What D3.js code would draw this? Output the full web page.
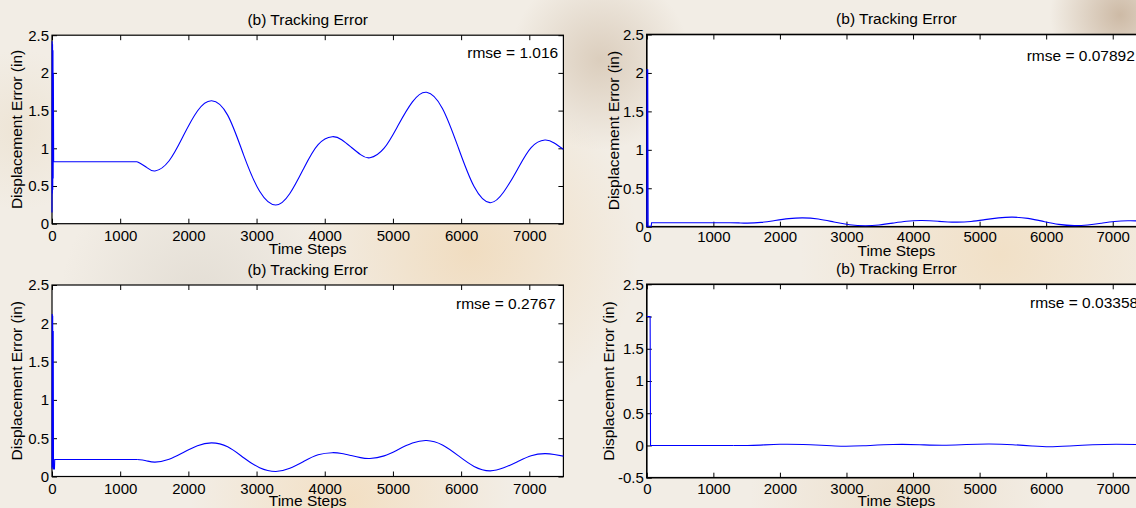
<!DOCTYPE html>
<html>
<head>
<meta charset="utf-8">
<script src="https://cdn.jsdelivr.net/npm/d3@7"></script>
<style>
  body { margin: 0; background: #f2ede5; }
  svg { display: block; font-family: "Liberation Sans", Arial, sans-serif; }
</style>
</head>
<body>
<svg width="1136" height="508"></svg>
<script>
// tracking error traces, [time step, displacement error (in)]
const errTopLeft = [
  [0, 0.15], [2, 2.42], [5, 0.4], [8, 2.38], [11, 0.45], [14, 2.3], [17, 0.6], [20, 2.0], [24, 0.822],
  [1250, 0.822], [1380, 0.752], [1510, 0.699], [1718, 0.835], [1926, 1.165], [2133, 1.495],
  [2341, 1.631], [2576, 1.44], [2811, 0.91], [3045, 0.43], [3280, 0.248],
  [3488, 0.4], [3695, 0.74], [3903, 1.05], [4110, 1.154], [4248, 1.113], [4387, 1.015], [4525, 0.916],
  [4663, 0.875], [4871, 1.002], [5079, 1.309], [5286, 1.616], [5494, 1.743],
  [5726, 1.529], [5958, 1.011], [6190, 0.493], [6422, 0.279], [6624, 0.42], [6826, 0.72], [7027, 1.01],
  [7229, 1.11], [7365, 1.07], [7500, 0.987]
];
const errTopRight = [
  [0, 0.0], [4, 2.04], [14, 2.04], [20, 0.005], [66, 0.005], [72, 0.052],
  [1250, 0.052], [1380, 0.0495], [1510, 0.046], [1718, 0.056], [1926, 0.0805], [2133, 0.105],
  [2341, 0.115], [2576, 0.1], [2811, 0.061], [3045, 0.026], [3280, 0.012],
  [3488, 0.022], [3695, 0.046], [3903, 0.07], [4110, 0.08], [4248, 0.077], [4387, 0.0695], [4525, 0.062],
  [4663, 0.059], [4871, 0.0685], [5079, 0.0915], [5286, 0.1145], [5494, 0.124],
  [5726, 0.108], [5958, 0.069], [6190, 0.03], [6422, 0.014], [6624, 0.023], [6826, 0.0455], [7027, 0.068],
  [7229, 0.077], [7365, 0.075], [7500, 0.067]
];
const errBottomLeft = [
  [0, 0.1], [3, 2.12], [6, 0.12], [10, 2.1], [14, 0.12], [18, 1.9], [22, 0.1], [36, 0.1], [40, 0.221],
  [1250, 0.221], [1380, 0.206], [1510, 0.188], [1718, 0.225], [1926, 0.3135], [2133, 0.402],
  [2341, 0.439], [2576, 0.388], [2811, 0.245], [3045, 0.115], [3280, 0.066],
  [3488, 0.107], [3695, 0.199], [3903, 0.283], [4110, 0.311], [4248, 0.3], [4387, 0.273], [4525, 0.246],
  [4663, 0.235], [4871, 0.269], [5079, 0.3525], [5286, 0.436], [5494, 0.47],
  [5726, 0.412], [5958, 0.272], [6190, 0.132], [6422, 0.074], [6624, 0.113], [6826, 0.193], [7027, 0.272],
  [7229, 0.299], [7365, 0.288], [7500, 0.266]
];
const errBottomRight = [
  [0, 2.0], [50, 2.0], [56, 0.0], [1300, 0.0], [1600, 0.002], [2000, 0.018], [2350, 0.015], [2700, 0.0],
  [2950, -0.012], [3250, -0.005], [3700, 0.015], [4100, 0.012], [4450, 0.004], [4800, 0.015], [5150, 0.022],
  [5500, 0.012], [5800, -0.008], [6050, -0.02], [6350, -0.008], [6700, 0.01], [7050, 0.018], [7500, 0.012]
];

const stepTicks = [0, 1000, 2000, 3000, 4000, 5000, 6000, 7000];
const errTicks = [0, 0.5, 1, 1.5, 2, 2.5];
const errTicksNeg = [-0.5, 0, 0.5, 1, 1.5, 2, 2.5];
const rmseLabels = ["rmse = 1.016", "rmse = 0.07892", "rmse = 0.2767", "rmse = 0.03358"];
const titleText = "(b) Tracking Error";
const xLabel = "Time Steps";
const yLabel = "Displacement Error (in)";

const panels = [
  { data: errTopLeft, rmse: rmseLabels[0], yDomain: [0, 2.5], yTicks: errTicks,
    x0: 52, x1: 563.4, top: 35.2, bottom: 223.7, titleY: 24.6, xlabY: 254, ylabX: 16.7,
    rmseX: 467.3, rmseY: 58, padX: 7, box: 1.2 },
  { data: errTopRight, rmse: rmseLabels[1], yDomain: [0, 2.5], yTicks: errTicks,
    x0: 646.8, x1: 1146, top: 34.5, bottom: 226.7, titleY: 24, xlabY: 255.5, ylabX: 613.3,
    rmseX: 1026.7, rmseY: 61, padX: 5, box: 1.6 },
  { data: errBottomLeft, rmse: rmseLabels[2], yDomain: [0, 2.5], yTicks: errTicks,
    x0: 52, x1: 563.4, top: 285, bottom: 476.5, titleY: 274.6, xlabY: 505.6, ylabX: 16.7,
    rmseX: 456, rmseY: 309, padX: 7, box: 1.2 },
  { data: errBottomRight, rmse: rmseLabels[3], yDomain: [-0.5, 2.5], yTicks: errTicksNeg,
    x0: 646.8, x1: 1146, top: 284.3, bottom: 477.7, titleY: 274, xlabY: 506.3, ylabX: 608.3,
    rmseX: 1030, rmseY: 308, padX: 5.5, box: 1.6 }
];

const svg = d3.select("svg");

// faint photo watermark behind the figure
const defs = svg.append("defs");
const blobs = [
  { cx: 470, cy: 250, r: 170, c: "#efcfa2", o: 0.55 },
  { cx: 600, cy: 60, r: 90, c: "#bfa78c", o: 0.45 },
  { cx: 1000, cy: 255, r: 200, c: "#f0d3a8", o: 0.5 },
  { cx: 1120, cy: 15, r: 70, c: "#a88766", o: 0.5 },
  { cx: 200, cy: 300, r: 140, c: "#d9d3c9", o: 0.6 },
  { cx: 350, cy: 500, r: 160, c: "#f3d6ad", o: 0.6 },
  { cx: 900, cy: 500, r: 150, c: "#e8d2b4", o: 0.5 },
  { cx: 20, cy: 130, r: 80, c: "#e9dcc6", o: 0.5 }
];
blobs.forEach((b, i) => {
  const gr = defs.append("radialGradient").attr("id", "blob" + i);
  gr.append("stop").attr("offset", "0%").attr("stop-color", b.c).attr("stop-opacity", b.o);
  gr.append("stop").attr("offset", "100%").attr("stop-color", b.c).attr("stop-opacity", 0);
  svg.append("circle").attr("cx", b.cx).attr("cy", b.cy).attr("r", b.r)
    .attr("fill", `url(#blob${i})`);
});

const fmt = d => String(d);

panels.forEach(p => {
  const x = d3.scaleLinear().domain([0, 7500]).range([p.x0, p.x1]);
  const y = d3.scaleLinear().domain(p.yDomain).range([p.bottom, p.top]);
  const g = svg.append("g");

  g.append("rect")
    .attr("x", p.x0).attr("y", p.top)
    .attr("width", p.x1 - p.x0).attr("height", p.bottom - p.top)
    .attr("fill", "#fff");

  const axes = [
    [d3.axisBottom(x).tickValues(stepTicks).tickFormat(fmt).tickPadding(p.padX), `translate(0,${p.bottom})`],
    [d3.axisTop(x).tickValues(stepTicks).tickFormat(""), `translate(0,${p.top})`],
    [d3.axisLeft(y).tickValues(p.yTicks).tickFormat(fmt).tickPadding(3), `translate(${p.x0},0)`],
    [d3.axisRight(y).tickValues(p.yTicks).tickFormat(""), `translate(${p.x1},0)`]
  ];
  axes.forEach(([ax, tr]) => {
    const a = g.append("g").attr("transform", tr)
      .call(ax.tickSizeInner(-5).tickSizeOuter(0));
    a.select(".domain").remove();
    a.selectAll("line").attr("stroke", "#000");
    a.selectAll("text").attr("fill", "#000").style("font-size", "15px")
      .style("font-family", "'Liberation Sans', Arial, sans-serif");
  });

  g.append("rect")
    .attr("x", p.x0).attr("y", p.top)
    .attr("width", p.x1 - p.x0).attr("height", p.bottom - p.top)
    .attr("fill", "none").attr("stroke", "#000").attr("stroke-width", p.box);

  // start-up transient and hold drawn straight, the rest as a smooth trace
  const early = p.data.filter(d => d[0] <= 100);
  const late = p.data.filter(d => d[0] > 100);
  const head = early.concat([late[0]]);

  const lineHead = d3.line().x(d => x(d[0])).y(d => y(d[1])).curve(d3.curveLinear);
  const lineTail = d3.line().x(d => x(d[0])).y(d => y(d[1])).curve(d3.curveNatural);

  [[head, lineHead], [late, lineTail]].forEach(([pts, ln]) => {
    g.append("path")
      .datum(pts)
      .attr("d", ln)
      .attr("fill", "none")
      .attr("stroke", "#0000ff")
      .attr("stroke-width", 1.1);
  });

  g.append("text")
    .attr("x", (p.x0 + p.x1) / 2).attr("y", p.titleY)
    .attr("text-anchor", "middle").style("font-size", "15.5px")
    .text(titleText);

  g.append("text")
    .attr("x", (p.x0 + p.x1) / 2).attr("y", p.xlabY)
    .attr("text-anchor", "middle").style("font-size", "15.5px")
    .text(xLabel);

  g.append("text")
    .attr("transform", `translate(${p.ylabX},${(p.top + p.bottom) / 2}) rotate(-90)`)
    .attr("dy", "0.35em")
    .attr("text-anchor", "middle").style("font-size", "15.5px")
    .text(yLabel);

  g.append("text")
    .attr("x", p.rmseX).attr("y", p.rmseY)
    .style("font-size", "15.5px")
    .text(p.rmse);
});
</script>
</body>
</html>
